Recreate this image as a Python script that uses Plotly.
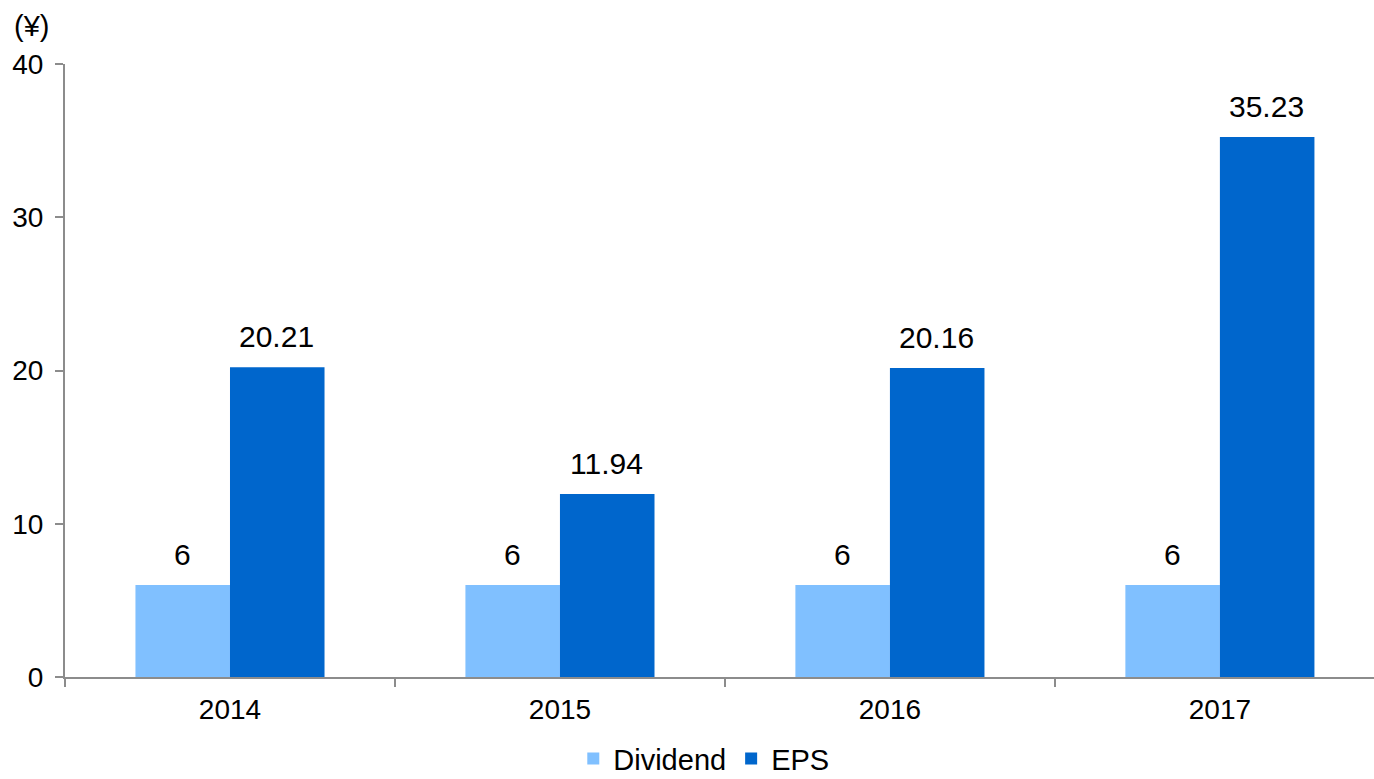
import plotly.graph_objects as go

years = ["2014", "2015", "2016", "2017"]
dividend = [6, 6, 6, 6]
eps = [20.21, 11.94, 20.16, 35.23]
dividend_labels = ["6", "6", "6", "6"]
eps_labels = ["20.21", "11.94", "20.16", "35.23"]

C_DIV = "#80C0FF"
C_EPS = "#0066CC"
AXC = "#8C8C8C"
FONT = "Liberation Sans, Arial, sans-serif"

fig = go.Figure()
fig.add_trace(go.Bar(name="Dividend", x=years, y=dividend, marker_color=C_DIV,
                     marker_line_width=0))
fig.add_trace(go.Bar(name="EPS", x=years, y=eps, marker_color=C_EPS,
                     marker_line_width=0))

annotations = []
for i, (v, t) in enumerate(zip(dividend, dividend_labels)):
    annotations.append(dict(x=i, y=v, text=t, xref="x", yref="y", showarrow=False,
                            xshift=-47, yanchor="bottom", yshift=12,
                            font=dict(size=30, color="black", family=FONT)))
for i, (v, t) in enumerate(zip(eps, eps_labels)):
    annotations.append(dict(x=i, y=v, text=t, xref="x", yref="y", showarrow=False,
                            xshift=47, yanchor="bottom", yshift=12,
                            font=dict(size=30, color="black", family=FONT)))
annotations.append(dict(x=-0.0405, y=1.062, xref="paper", yref="paper", text="(¥)",
                        showarrow=False, xanchor="left", yanchor="middle",
                        font=dict(size=29, color="black", family=FONT)))

fig.update_layout(
    width=1374, height=779,
    margin=dict(l=65, r=0, t=64, b=102, autoexpand=False),
    paper_bgcolor="white", plot_bgcolor="white",
    barmode="group", bargap=0.427, bargroupgap=0,
    font=dict(family=FONT, size=28, color="black"),
    showlegend=True,
    legend=dict(orientation="h", x=0.488, xanchor="center", y=-0.133, yanchor="middle",
                font=dict(size=29, color="black", family=FONT), traceorder="normal",
                itemwidth=30),
    annotations=annotations,
    xaxis=dict(type="category", range=[-0.5, 3.467], showline=True, linecolor=AXC,
               linewidth=2, ticks="outside", tickson="boundaries", ticklen=8,
               tickcolor=AXC, tickwidth=2, showgrid=False, ticklabelstandoff=6,
               tickfont=dict(size=28, color="black", family=FONT)),
    yaxis=dict(range=[0, 40], dtick=10, showline=True, linecolor=AXC, linewidth=2,
               ticks="outside", ticklen=8, tickcolor=AXC, tickwidth=2,
               showgrid=False, zeroline=False, ticklabelstandoff=6,
               tickfont=dict(size=28, color="black", family=FONT)),
)

fig.write_html("out.html")
